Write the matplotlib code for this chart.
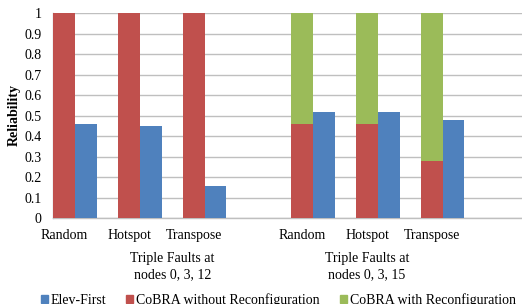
import matplotlib
matplotlib.use("Agg")
import matplotlib.pyplot as plt
from matplotlib.patches import Patch
import numpy as np

plt.rcParams['font.family'] = ['Liberation Serif', 'DejaVu Serif']

patterns = ["Random", "Hotspot", "Transpose", "Random", "Hotspot", "Transpose"]
groups = ["Triple Faults at\nnodes 0, 3, 12", "Triple Faults at\nnodes 0, 3, 15"]
elev_first = [0.46, 0.45, 0.16, 0.52, 0.52, 0.48]
cobra_without = [1.0, 1.0, 1.0, 0.46, 0.46, 0.28]
cobra_with = [0.0, 0.0, 0.0, 0.54, 0.54, 0.72]

BLUE = "#4F81BD"
RED = "#C0504D"
GREEN = "#9BBB59"
GRID = "#BFBFBF"

fig = plt.figure(figsize=(5.22, 3.04), dpi=100)
ax = fig.add_axes([53.3 / 522, 85.7 / 304, 1 - 53.3 / 522, 205.0 / 304])

# slot positions (each bar is one slot wide)
red_pos = np.array([0, 3, 6, 11, 14, 17], dtype=float)
blue_pos = red_pos + 1

ax.bar(red_pos, cobra_without, width=1.0, align='edge', color=RED, zorder=3)
ax.bar(red_pos, cobra_with, width=1.0, align='edge', bottom=cobra_without, color=GREEN, zorder=3)
ax.bar(blue_pos, elev_first, width=1.0, align='edge', color=BLUE, zorder=3)

ax.set_xlim(0, (522 - 53.3) / 21.64)
ax.set_ylim(0, 1)
yt = np.round(np.arange(0, 1.01, 0.1), 1)
ax.set_yticks(yt)
ax.set_yticklabels(["0" if v == 0 else ("1" if v == 1 else f"{v:g}") for v in yt], fontsize=10)
ax.tick_params(axis='y', length=0, pad=8.5)
ax.yaxis.grid(True, color=GRID, linewidth=1.0, zorder=0)
ax.set_axisbelow(True)

ax.set_xticks(red_pos + 0.5)
ax.set_xticklabels(patterns, fontsize=10)
ax.tick_params(axis='x', length=0, pad=8)

for s in ['top', 'right']:
    ax.spines[s].set_visible(False)
for s in ['left', 'bottom']:
    ax.spines[s].set_color(GRID)
    ax.spines[s].set_linewidth(1.0)

ax.set_ylabel("Reliability", fontsize=10, fontweight='bold')
ax.yaxis.set_label_coords(-0.069, 0.504)

group_centers = [5.5, 14.5]
for gx, gl in zip(group_centers, groups):
    ax.text(gx, -0.237, gl, transform=ax.get_xaxis_transform(), ha='center', va='center',
            fontsize=10, linespacing=1.32, clip_on=False)

handles = [Patch(color=BLUE, label="Elev-First"),
           Patch(color=RED, label="CoBRA without Reconfiguration"),
           Patch(color=GREEN, label="CoBRA with Reconfiguration")]
fig.legend(handles=handles, loc='center', bbox_to_anchor=(0.533, 0.014), ncol=3, frameon=False,
           fontsize=10, handlelength=0.5, handleheight=0.5, handletextpad=0.2, columnspacing=1.45)

fig.savefig("out.png", dpi=100)
